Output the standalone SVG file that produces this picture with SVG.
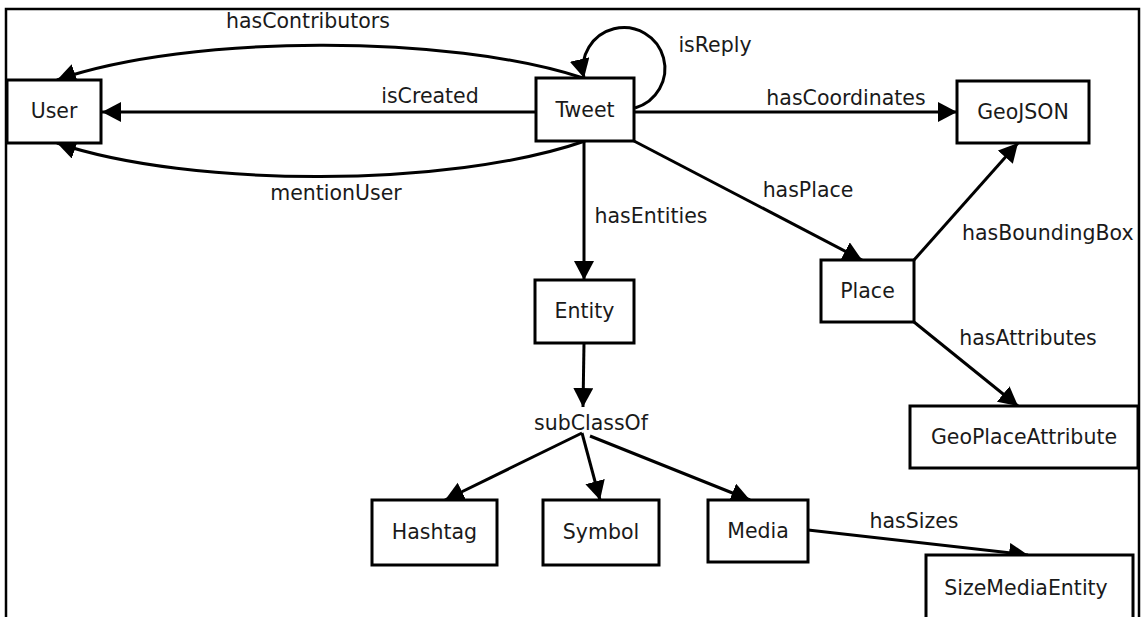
<svg xmlns="http://www.w3.org/2000/svg" width="1142" height="617" viewBox="0 0 1142 617">
<style>
.box{fill:#fff;stroke:#000;stroke-width:3}
.edge{fill:none;stroke:#000;stroke-width:3;marker-end:url(#arr)}
text{font-family:"DejaVu Sans","Liberation Sans",sans-serif;font-size:20.5px;fill:#1a1a1a;text-anchor:middle}
.frame{fill:none;stroke:#000;stroke-width:2.5}
</style>
<defs>
<marker id="arr" markerUnits="userSpaceOnUse" markerWidth="22" markerHeight="22" refX="19" refY="10" orient="auto">
<path d="M0,0 L19,10 L0,20 z" fill="#000"/>
</marker>
</defs>
<rect width="1142" height="617" fill="#fff"/>
<path class="frame" d="M6,617 L6,9 L1139,9 L1139,617"/>
<g id="connectors">
<path class="edge" d="M536,112 L102,112"/>
<path class="edge" d="M583,78 C450,34 190,34 57,80"/>
<path class="edge" d="M585,141 C450,188 190,188 57,143"/>
<path class="edge" d="M635,108 A41,41 0 1 0 584,78"/>
<path class="edge" d="M634,112 L957,112"/>
<path class="edge" d="M634,141 L862,260"/>
<path class="edge" d="M584,141 L584,280"/>
<path class="edge" d="M914,260 L1018,143"/>
<path class="edge" d="M914,322 L1018,406"/>
<path class="edge" d="M584,343 L583,407"/>
<path class="edge" d="M582,433 L445,500"/>
<path class="edge" d="M582,433 L600,500"/>
<path class="edge" d="M590,436 L750,500"/>
<path class="edge" d="M808,530 L1028,555"/>
<text x="308" y="28">hasContributors</text>
<text x="430" y="103">isCreated</text>
<text x="336" y="200">mentionUser</text>
<text x="715" y="52">isReply</text>
<text x="846" y="105">hasCoordinates</text>
<text x="808" y="197">hasPlace</text>
<text x="651" y="223">hasEntities</text>
<text x="962" y="240" style="text-anchor:start">hasBoundingBox</text>
<text x="1028" y="345">hasAttributes</text>
<text x="591" y="430">subClassOf</text>
<text x="914" y="528">hasSizes</text>
</g>
<g id="User"><rect class="box" x="7" y="80" width="94" height="63"/><text x="54" y="118">User</text></g>
<g id="Tweet"><rect class="box" x="536" y="78" width="98" height="63"/><text x="585" y="117">Tweet</text></g>
<g id="GeoJSON"><rect class="box" x="957" y="81" width="132" height="62"/><text x="1023" y="119">GeoJSON</text></g>
<g id="Place"><rect class="box" x="821" y="260" width="93" height="62"/><text x="867.5" y="298">Place</text></g>
<g id="GeoPlaceAttribute"><rect class="box" x="910" y="406" width="228" height="62"/><text x="1024" y="444">GeoPlaceAttribute</text></g>
<g id="Entity"><rect class="box" x="535" y="280" width="99" height="63"/><text x="584.5" y="318">Entity</text></g>
<g id="Hashtag"><rect class="box" x="372" y="500" width="125" height="65"/><text x="434.5" y="539">Hashtag</text></g>
<g id="Symbol"><rect class="box" x="543" y="500" width="116" height="65"/><text x="601" y="539">Symbol</text></g>
<g id="Media"><rect class="box" x="708" y="500" width="100" height="62"/><text x="758" y="538">Media</text></g>
<g id="SizeMediaEntity"><rect class="box" x="926" y="555" width="207" height="70"/><text x="1026" y="595">SizeMediaEntity</text></g>
</svg>
